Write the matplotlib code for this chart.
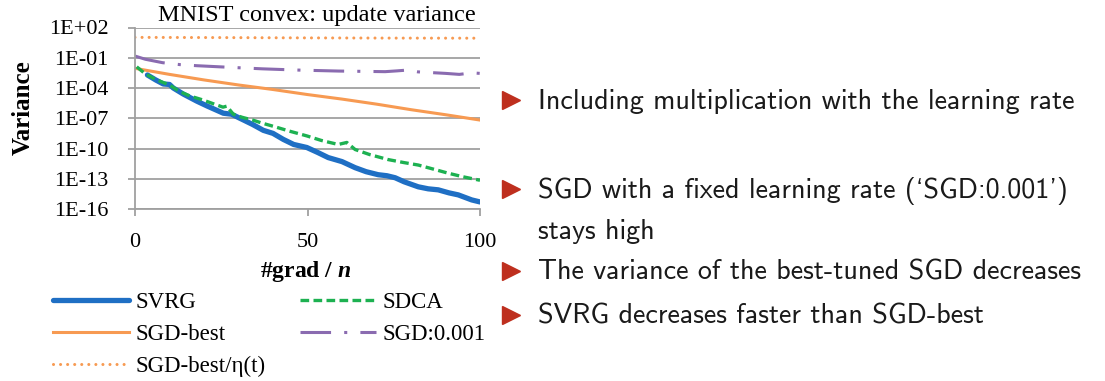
import numpy as np
import matplotlib
matplotlib.use("Agg")
import matplotlib.pyplot as plt
from matplotlib.lines import Line2D

# values (x = #grad/n, y = log10 of variance)
svrg_x = [3.6, 6, 8.2, 10, 11.1, 14, 17.9, 21, 25.6, 28, 30.4, 34, 37.2, 40, 43, 46,
          49.8, 53, 56, 60, 63.8, 67, 70.5, 73, 75.4, 78, 82.1, 85, 87.9, 91, 93.7, 97.6, 100]
svrg_log = [-2.71, -3.2, -3.6, -3.65, -4.0, -4.6, -5.3, -5.8, -6.5, -6.6, -7.0, -7.6, -8.2, -8.5, -9.1, -9.6,
            -9.9, -10.4, -10.9, -11.3, -11.9, -12.3, -12.6, -12.7, -12.9, -13.3, -13.8, -14.0, -14.1, -14.4, -14.6, -15.1, -15.3]

sdca_x = [0.5, 3, 6.3, 10, 13, 16, 19.8, 23, 25.5, 26.6, 28.5, 31, 34.3, 37, 40.1, 45, 49.8,
          54, 58.9, 61.4, 63.8, 68, 73.4, 78, 82.1, 86, 90.8, 95, 100]
sdca_log = [-1.9, -2.6, -3.2, -3.7, -4.37, -4.8, -5.2, -5.6, -5.9, -5.8, -6.6, -6.9, -7.2, -7.5, -7.8, -8.3, -8.75,
            -9.2, -9.6, -9.4, -10.1, -10.6, -11.1, -11.4, -11.64, -12.0, -12.45, -12.8, -13.15]

sgdbest_x = [0, 10, 20, 30, 40, 50, 60, 70, 80, 90, 100]
sgdbest_log = [-2.05, -2.65, -3.2, -3.7, -4.15, -4.65, -5.1, -5.6, -6.15, -6.65, -7.18]

sgdfix_x = [0, 3, 8, 13, 18, 27.5, 37, 47, 59, 66, 72.5, 76, 79, 82, 90, 94, 97.6, 100]
sgdfix_log = [-0.83, -1.15, -1.49, -1.68, -1.79, -1.95, -2.1, -2.22, -2.32, -2.35, -2.38, -2.3, -2.22, -2.4,
              -2.55, -2.65, -2.5, -2.55]

sgdeta_x = [0, 25, 50, 75, 100]
sgdeta_log = [1.02, 1.0, 0.97, 0.95, 0.94]

ytick_vals = [1e2, 1e-1, 1e-4, 1e-7, 1e-10, 1e-13, 1e-16]
ytick_labels = ["1E+02", "1E-01", "1E-04", "1E-07", "1E-10", "1E-13", "1E-16"]
xtick_vals = [0, 50, 100]

# bullet text (cmss10 maps ` and ' to curly quotes), baseline y in px
bullets = ["Including multiplication with the learning rate",
           "SGD with a fixed learning rate (`SGD:0.001')",
           "stays high",
           "The variance of the best-tuned SGD decreases",
           "SVRG decreases faster than SGD-best"]
bullet_base = [109, 198, 239, 280, 324]
has_mark = [True, True, False, True, True]

W, H = 1105, 381
plt.rcParams["mathtext.fontset"] = "custom"
plt.rcParams["mathtext.it"] = "Liberation Serif:bold:italic"
fig = plt.figure(figsize=(W / 100, H / 100), dpi=100)
serif = "Liberation Serif"
grey = "#A0A0A0"

ax = fig.add_axes([135 / W, 1 - 209 / H, 345 / W, 181.5 / H])
ax.set_yscale("log")
ax.set_ylim(1e-16, 1e2)
ax.set_xlim(0, 100)

ax.plot(svrg_x, 10.0 ** np.array(svrg_log), color="#1F6FC4", lw=3.8, solid_capstyle="round", label="SVRG", zorder=3)
ax.plot(sgdbest_x, 10.0 ** np.array(sgdbest_log), color="#F79A52", lw=2.2, label="SGD-best")
ax.plot(sgdeta_x, 10.0 ** np.array(sgdeta_log), color="#F79A52", lw=2.2, dashes=(0.01, 2.3),
        dash_capstyle="round", label="SGD-best/\u03b7(t)")
ax.plot(sdca_x, 10.0 ** np.array(sdca_log), color="#1DB151", lw=2.4, dashes=(2.6, 1.3), label="SDCA", zorder=4)
ax.plot(sgdfix_x, 10.0 ** np.array(sgdfix_log), color="#8A6BB0", lw=2.2, dashes=(10, 4.3, 1, 4.3),
        label="SGD:0.001")

ax.set_yticks(ytick_vals, ytick_labels)
ax.yaxis.set_minor_locator(matplotlib.ticker.NullLocator())
ax.set_xticks(xtick_vals)
ax.grid(axis="y", color=grey, lw=1.3)
ax.set_axisbelow(True)
for s in ["top", "right"]:
    ax.spines[s].set_visible(False)
for s in ["left", "bottom"]:
    ax.spines[s].set_color(grey)
    ax.spines[s].set_linewidth(1.3)
ax.tick_params(axis="y", length=5, width=1.3, color=grey, pad=14, labelsize=16)
ax.tick_params(axis="x", length=5, width=1.3, color=grey, pad=12, labelsize=16)
for t in ax.get_xticklabels() + ax.get_yticklabels():
    t.set_fontfamily(serif)

fig.text(23 / W, 1 - 108 / H, "Variance", rotation=90, ha="center", va="center",
         family=serif, fontweight="bold", fontsize=18)
fig.text(306 / W, 1 - 272 / H, r"#grad / $n$", ha="center", va="center",
         family=serif, fontweight="bold", fontsize=17)
fig.text(317 / W, 1 - 16 / H, "MNIST convex: update variance", ha="center", va="center",
         family=serif, fontsize=17.5)

handles, labels = ax.get_legend_handles_labels()
leg = fig.legend(handles, labels, ncol=2,
                 loc="upper left", bbox_to_anchor=(53 / W, 1 - 292 / H), frameon=False,
                 prop={"family": serif, "size": 16.5}, handlelength=3.3, handletextpad=0.3,
                 columnspacing=1.5, labelspacing=0.48, borderpad=0, borderaxespad=0)

for txt, by, mk in zip(bullets, bullet_base, has_mark):
    if mk:
        fig.add_artist(Line2D([511 / W], [1 - (by - 9) / H], marker=">", markersize=13, color="#BE2F1E",
                              transform=fig.transFigure, linestyle="none"))
    fig.text(538 / W, 1 - by / H, txt, ha="left", va="baseline", family=["cmss10", "DejaVu Sans"],
             fontsize=20.2, color="#1a1a1a")

fig.savefig("out.png", dpi=100)
